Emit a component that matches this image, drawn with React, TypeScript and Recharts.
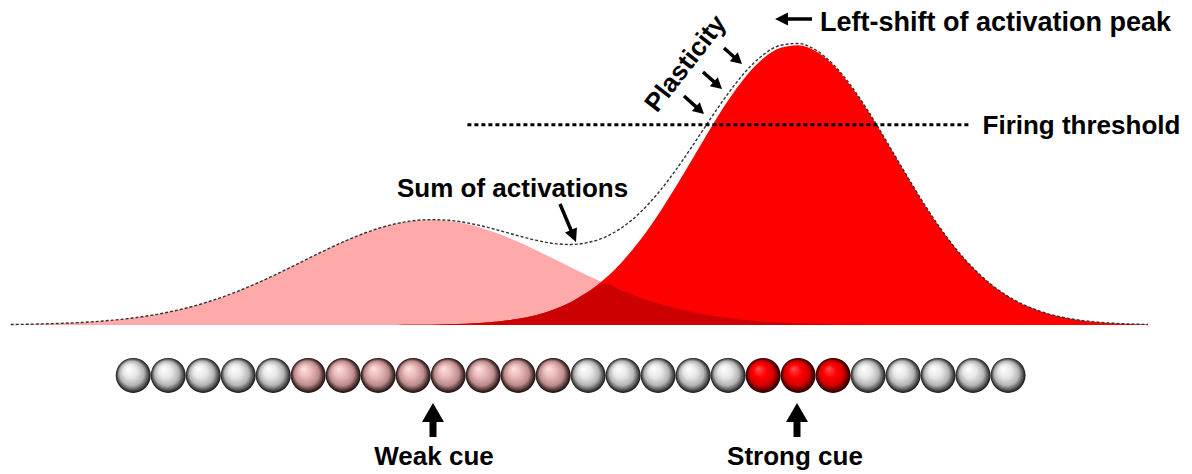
import { ComposedChart, Area, Line, Scatter, XAxis, YAxis, ReferenceLine } from 'recharts'

// x = position along the row of neurons (1 unit = one neuron), y = activation (strong cue peak ~100)
const positions = [
  -3.5, -3, -2.5, -2, -1.5, -1, -0.5, 0, 0.5, 1, 1.5, 2, 2.5, 3, 3.5, 4, 4.5, 5, 5.5, 6, 6.5,
  7, 7.5, 8, 8.5, 9, 9.5, 10, 10.5, 11, 11.5, 12, 12.5, 13, 13.5, 14, 14.5, 15, 15.5, 16, 16.5,
  17, 17.5, 18, 18.5, 19, 19.5, 20, 20.5, 21, 21.5, 22, 22.5, 23, 23.5, 24, 24.5, 25, 25.5, 26,
  26.5, 27, 27.5, 28, 28.5, 29,
]
const weakCue = [
  0.17, 0.27, 0.41, 0.61, 0.89, 1.29, 1.82, 2.52, 3.43, 4.58, 6.0, 7.73, 9.76, 12.1, 14.73, 17.59,
  20.62, 23.72, 26.79, 29.69, 32.29, 34.47, 36.12, 37.15, 37.5, 37.15, 36.12, 34.47, 32.29, 29.69,
  26.79, 23.72, 20.62, 17.59, 14.73, 12.1, 9.76, 7.73, 6.0, 4.58, 3.43, 2.52, 1.82, 1.29, 0.89,
  0.61, 0.41, 0.27, 0.17, 0.11, 0.07, 0.04, 0.03, 0.01, 0, 0, 0, 0, 0, 0, 0, 0, 0, 0, 0, 0,
]
const strongCue = [
  0, 0, 0, 0, 0, 0, 0, 0, 0, 0, 0, 0, 0, 0, 0, 0, 0, 0, 0, 0, 0, 0.01, 0.03, 0.07, 0.13, 0.25,
  0.45, 0.78, 1.33, 2.19, 3.5, 5.42, 8.14, 11.86, 16.76, 22.99, 30.56, 39.4, 49.27, 59.75, 70.28,
  80.16, 88.69, 95.16, 99.02, 99.94, 97.82, 92.86, 85.49, 76.34, 66.1, 55.52, 45.22, 35.72, 27.37,
  20.34, 14.65, 10.24, 6.94, 4.56, 2.91, 1.8, 1.08, 0.63, 0.35, 0.19,
]
// where both cues are active (drawn darker)
const overlap = [
  0, 0, 0, 0, 0, 0, 0, 0, 0, 0, 0, 0, 0, 0, 0, 0, 0, 0, 0, 0, 0, 0.01, 0.03, 0.07, 0.13, 0.25,
  0.45, 0.78, 1.33, 2.19, 3.5, 5.42, 8.14, 11.86, 14.73, 12.1, 9.76, 7.73, 6.0, 4.58, 3.43, 2.52,
  1.82, 1.29, 0.89, 0.61, 0.41, 0.27, 0.17, 0.11, 0.07, 0.04, 0.03, 0.01, 0, 0, 0, 0, 0, 0, 0, 0,
  0, 0, 0, 0,
]
const sumActivation = [
  0.17, 0.27, 0.41, 0.61, 0.89, 1.29, 1.82, 2.52, 3.43, 4.58, 6.0, 7.73, 9.76, 12.1, 14.73, 17.59,
  20.62, 23.72, 26.79, 29.69, 32.29, 34.48, 36.15, 37.22, 37.63, 37.4, 36.57, 35.25, 33.62, 31.88,
  30.29, 29.14, 28.76, 29.45, 31.49, 35.09, 40.32, 47.13, 55.27, 64.33, 73.71, 82.68, 90.51, 96.45,
  99.91, 100.55, 98.23, 93.13, 85.66, 76.45, 66.17, 55.56, 45.25, 35.73, 27.37, 20.34, 14.65,
  10.24, 6.94, 4.56, 2.91, 1.8, 1.08, 0.63, 0.35, 0.19,
]

const neuronKinds = [
  'rest', 'rest', 'rest', 'rest', 'rest',
  'weak', 'weak', 'weak', 'weak', 'weak', 'weak', 'weak', 'weak',
  'rest', 'rest', 'rest', 'rest', 'rest',
  'strong', 'strong', 'strong',
  'rest', 'rest', 'rest', 'rest', 'rest',
]

const THRESHOLD = 71.5
const THRESHOLD_FROM = 9.55
const THRESHOLD_TO = 23.9
const ROW_LEVEL = -18

const curves = positions.map((x, i) => ({
  x,
  weak: weakCue[i],
  strong: strongCue[i],
  both: overlap[i],
  sum: sumActivation[i],
}))
const neurons = neuronKinds.map((kind, i) => ({ x: i, y: ROW_LEVEL, kind }))

const FONT = '"Liberation Sans", Arial, sans-serif'

function Arrow({ x1, y1, x2, y2, shaft, head, headW }: {
  x1: number; y1: number; x2: number; y2: number; shaft: number; head: number; headW: number
}) {
  const len = Math.hypot(x2 - x1, y2 - y1)
  const ux = (x2 - x1) / len
  const uy = (y2 - y1) / len
  const nx = -uy
  const ny = ux
  const bx = x2 - ux * head
  const by = y2 - uy * head
  const pts = [
    [x1 + nx * shaft / 2, y1 + ny * shaft / 2],
    [bx + nx * shaft / 2, by + ny * shaft / 2],
    [bx + nx * headW / 2, by + ny * headW / 2],
    [x2, y2],
    [bx - nx * headW / 2, by - ny * headW / 2],
    [bx - nx * shaft / 2, by - ny * shaft / 2],
    [x1 - nx * shaft / 2, y1 - ny * shaft / 2],
  ]
  return <polygon points={pts.map(p => p.join(',')).join(' ')} fill="#000" />
}

function Sphere(props: any) {
  const { cx, cy, payload } = props
  return <circle cx={cx} cy={cy} r={17.5} fill={`url(#sphere-${payload.kind})`} />
}

const textStyle = { fontFamily: FONT, fontWeight: 'bold' as const, fill: '#000' }

export default function App() {
  return (
    <div style={{ position: 'absolute', left: 0, top: 0, width: 1192, height: 474, background: '#fff' }}>
      <ComposedChart width={1192} height={474} data={curves} margin={{ top: 17, right: 9, bottom: 9, left: 2 }}>
        <defs>
          <radialGradient id="sphere-rest" cx="50%" cy="50%" r="50%" fx="36%" fy="30%">
            <stop offset="0%" stopColor="#ffffff" />
            <stop offset="38%" stopColor="#e8e8e8" />
            <stop offset="70%" stopColor="#b4b4b4" />
            <stop offset="89%" stopColor="#505050" />
            <stop offset="100%" stopColor="#111111" />
          </radialGradient>
          <radialGradient id="sphere-weak" cx="50%" cy="50%" r="50%" fx="36%" fy="30%">
            <stop offset="0%" stopColor="#ffe2e2" />
            <stop offset="38%" stopColor="#e8b8b8" />
            <stop offset="70%" stopColor="#bc8c8c" />
            <stop offset="89%" stopColor="#503535" />
            <stop offset="100%" stopColor="#140a0a" />
          </radialGradient>
          <radialGradient id="sphere-strong" cx="50%" cy="50%" r="50%" fx="36%" fy="30%">
            <stop offset="0%" stopColor="#ff5050" />
            <stop offset="38%" stopColor="#ff0000" />
            <stop offset="70%" stopColor="#d40000" />
            <stop offset="89%" stopColor="#600000" />
            <stop offset="100%" stopColor="#1a0000" />
          </radialGradient>
        </defs>
        <XAxis type="number" dataKey="x" domain={[-3.75, 30]} allowDataOverflow hide />
        <YAxis type="number" domain={[-50, 110]} allowDataOverflow hide />
        <Area type="monotone" dataKey="weak" baseValue={0} fill="#ffaaaa" fillOpacity={1} stroke="none" isAnimationActive={false} />
        <Area type="monotone" dataKey="strong" baseValue={0} fill="#ff0000" fillOpacity={1} stroke="none" isAnimationActive={false} />
        <Area type="monotone" dataKey="both" baseValue={0} fill="#cc0000" fillOpacity={1} stroke="none" isAnimationActive={false} />
        <Line type="monotone" dataKey="sum" stroke="#333" strokeWidth={1.4} strokeDasharray="3 2" dot={false} isAnimationActive={false} />
        <ReferenceLine
          segment={[{ x: THRESHOLD_FROM, y: THRESHOLD }, { x: THRESHOLD_TO, y: THRESHOLD }]}
          stroke="#000"
          strokeWidth={3}
          strokeDasharray="4 3"
          ifOverflow="visible"
          label={{ value: 'Firing threshold', position: 'right', offset: 13, fontSize: 26, ...textStyle }}
        />
        <Scatter data={neurons} dataKey="y" shape={Sphere} isAnimationActive={false} />

        <g>
          <Arrow x1={812} y1={19} x2={775} y2={19} shaft={3.5} head={13} headW={13} />
          <text x={820} y={31} fontSize={27} {...textStyle}>Left-shift of activation peak</text>

          <text x={397} y={197} fontSize={26} {...textStyle}>Sum of activations</text>
          <Arrow x1={560} y1={204} x2={576} y2={242} shaft={3.5} head={13} headW={13} />

          <text transform="translate(685,63) rotate(-52)" x={0} y={9} textAnchor="middle" fontSize={26} {...textStyle}>Plasticity</text>
          <Arrow x1={684} y1={96} x2={704} y2={114} shaft={3.5} head={11} headW={12} />
          <Arrow x1={703} y1={72} x2={722} y2={89} shaft={3.5} head={11} headW={12} />
          <Arrow x1={724} y1={48} x2={742} y2={64} shaft={3.5} head={11} headW={12} />

          <Arrow x1={433} y1={437} x2={433} y2={403} shaft={7} head={19} headW={22} />
          <text x={434} y={465} textAnchor="middle" fontSize={26} {...textStyle}>Weak cue</text>
          <Arrow x1={797} y1={437} x2={797} y2={403} shaft={7} head={19} headW={22} />
          <text x={795} y={465} textAnchor="middle" fontSize={26} {...textStyle}>Strong cue</text>
        </g>
      </ComposedChart>
    </div>
  )
}
